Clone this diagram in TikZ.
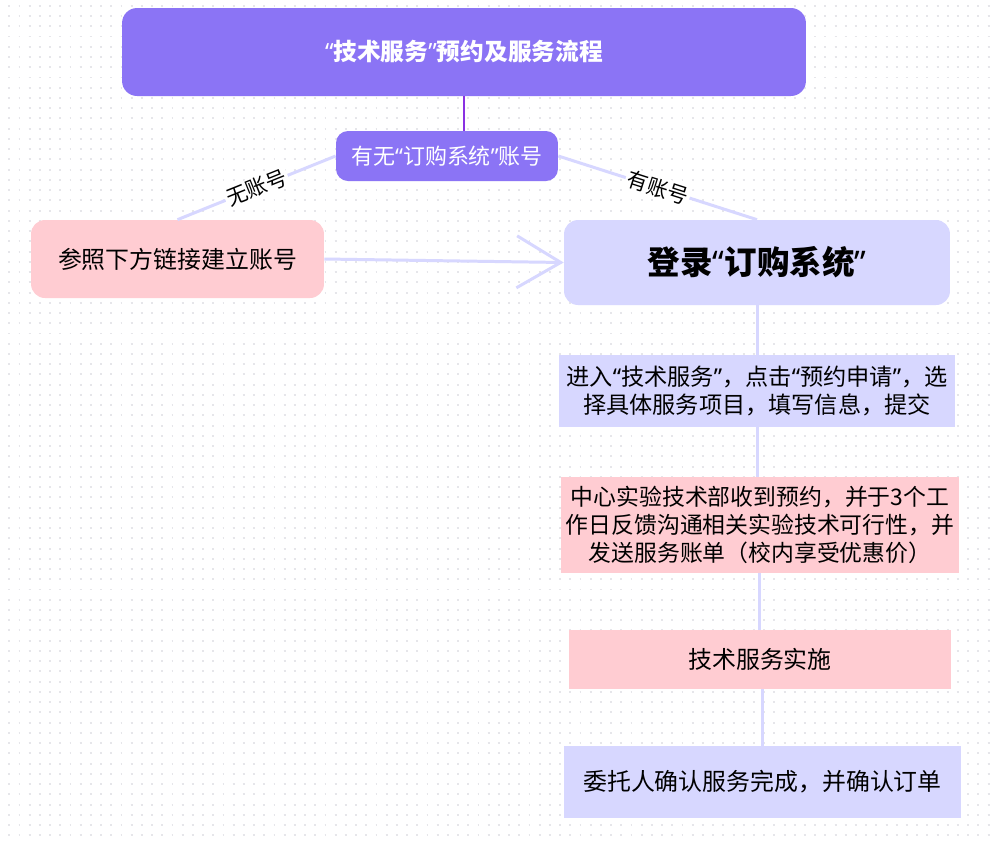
\documentclass[tikz,border=0pt]{standalone}
\usepackage{fontspec}
\setmainfont{Noto Sans CJK SC}
\newfontfamily\quotefont{Noto Sans}
\newcommand{\qopen}{{\quotefont “}}
\newcommand{\qclose}{{\quotefont ”}}
\usetikzlibrary{arrows.meta}
\definecolor{titlepurple}{RGB}{139,116,245}
\definecolor{linkpurple}{RGB}{138,50,226}
\definecolor{lavender}{RGB}{215,215,255}
\definecolor{softpink}{RGB}{255,204,210}
\definecolor{dotgray}{RGB}{230,230,234}
\tikzset{
  headbox/.style={fill=titlepurple, text=white, rounded corners=0.3cm, align=center},
  stepbox/.style={fill=#1, text=black, align=center, inner xsep=2pt, font=\fontsize{13.6}{16}\selectfont},
  link/.style={lavender, line width=1.7pt},
  branch/.style={midway, sloped, fill=white, inner sep=1pt, text=black, font=\fontsize{12}{14}\selectfont},
  dotrow/.style={dotgray, line width=1.1pt, dash pattern=on 1.1pt off 4.706pt}
}
\begin{document}
\begin{tikzpicture}[x=0.02cm, y=-0.02cm]
\useasboundingbox (0,0) rectangle (993,840);
\fill[white] (0,0) rectangle (993,840);
% dotted grid in the background
\foreach \j in {0,...,81}
  \draw[dotrow] (8.3, 5.8+10.24*\j) -- (993, 5.8+10.24*\j);
\node[headbox, minimum width=13.68cm, minimum height=1.76cm, font=\bfseries\fontsize{13.5}{15}\selectfont] (title) at (464,52) {\qopen 技术服务\qclose 预约及服务流程};
\node[headbox, rounded corners=0.24cm, minimum width=4.44cm, minimum height=1cm, font=\fontsize{12.5}{14}\selectfont] (account) at (447,156) {有无\qopen 订购系统\qclose 账号};
\node[stepbox=softpink, rounded corners=0.28cm, minimum width=5.86cm, minimum height=1.56cm] (register) at (177.5,259) {参照下方链接建立账号};
\node[stepbox=lavender, rounded corners=0.28cm, minimum width=7.72cm, minimum height=1.7cm, font=\bfseries\fontsize{18.5}{21}\selectfont] (login) at (757,262.5) {登录\qopen 订购系统\qclose};
\node[stepbox=lavender, minimum width=7.92cm, minimum height=1.44cm, font=\fontsize{13.2}{16}\selectfont] (apply) at (757,391) {进入\qopen 技术服务\qclose ，点击\qopen 预约申请\qclose ，选\\择具体服务项目，填写信息，提交};
\node[stepbox=softpink, minimum width=7.96cm, minimum height=1.92cm, font=\fontsize{13}{16}\selectfont] (review) at (760,525) {中心实验技术部收到预约，并于3个工\\作日反馈沟通相关实验技术可行性，并\\发送服务账单（校内享受优惠价）};
\node[stepbox=softpink, minimum width=7.64cm, minimum height=1.18cm] (service) at (760,659.5) {技术服务实施};
\node[stepbox=lavender, minimum width=7.94cm, minimum height=1.44cm] (confirm) at (762.5,782) {委托人确认服务完成，并确认订单};
\draw[linkpurple, line width=0.9pt] (title.south -| 464,0) -- (account.north -| 464,0);
\draw[link] (account.west) -- (register.north) node[branch] {无账号};
\draw[link] (account.east) -- (login.north) node[branch] {有账号};
\draw[link, -{Straight Barb[length=0.88cm, width=1.04cm]}] (register.east) -- (login.west);
\draw[link] (login.south) -- (apply.north);
\draw[link] (apply.south) -- (apply.south |- review.north);
\draw[link] (review.south -| 759,0) -- (service.north -| 759,0);
\draw[link] (service.south -| 762,0) -- (confirm.north -| 762,0);
\end{tikzpicture}
\end{document}
